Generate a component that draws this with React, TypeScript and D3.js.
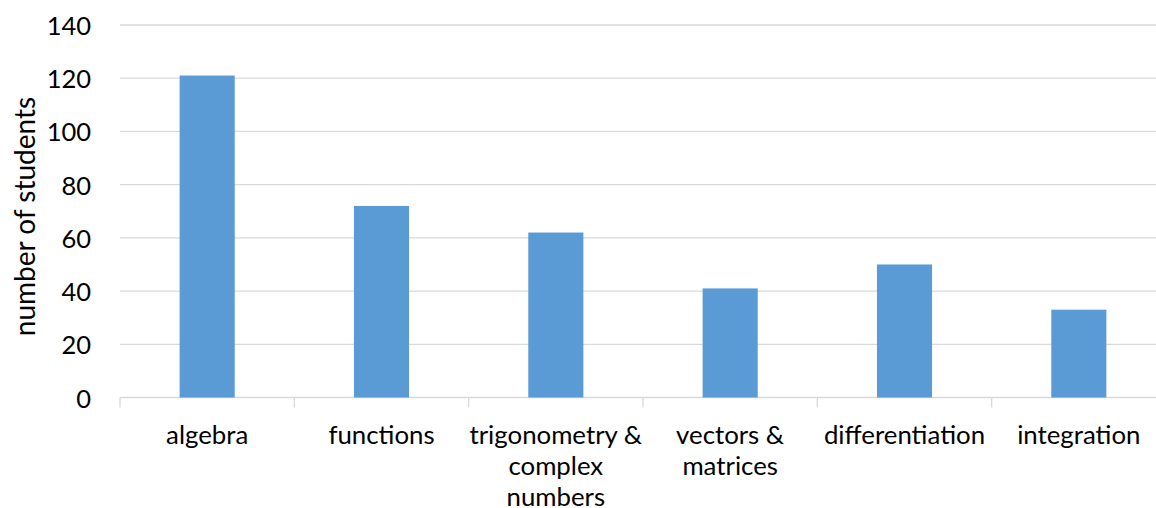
import React from "react";
import * as d3 from "d3";

// Topics and the number of students in each
const topics = [
  "algebra",
  "functions",
  "trigonometry & complex numbers",
  "vectors & matrices",
  "differentiation",
  "integration",
];
const studentCounts = [121, 72, 62, 41, 50, 33];
const yTicks = [0, 20, 40, 60, 80, 100, 120, 140];
const yTitle = "number of students";

const W = 1156;
const H = 508;
const FONT = "Lato, 'Open Sans', sans-serif";

const margin = { left: 120, right: -10, top: 25, bottom: 110 };

let measureCtx: CanvasRenderingContext2D | null = null;
function textWidth(s: string, size: number) {
  if (!measureCtx) measureCtx = document.createElement("canvas").getContext("2d");
  if (!measureCtx) return s.length * size * 0.5;
  measureCtx.font = `${size}px ${FONT}`;
  return measureCtx.measureText(s).width;
}

function wrap(label: string, maxWidth: number, size: number) {
  const words = label.split(" ");
  const lines: string[] = [];
  let cur = "";
  for (const w of words) {
    const next = cur ? cur + " " + w : w;
    if (cur && textWidth(next, size) > maxWidth) {
      lines.push(cur);
      cur = w;
    } else {
      cur = next;
    }
  }
  if (cur) lines.push(cur);
  return lines;
}

export default function App() {
  const x = d3
    .scaleBand<string>()
    .domain(topics)
    .range([margin.left, W - margin.right])
    .paddingInner(0)
    .paddingOuter(0);
  const step = x.step();
  const barW = step * 0.316;

  const y = d3
    .scaleLinear()
    .domain([0, 140])
    .range([H - margin.bottom - 0.5, margin.top]);

  const labelSize = 25.8;
  const tickSize = 25.5;

  const boundaries = d3.range(topics.length + 1).map((i) => margin.left + i * step);

  return (
    <svg
      width={W}
      height={H}
      style={{ position: "fixed", left: 0, top: 0, background: "#fff" }}
      fontFamily={FONT}
    >
      {/* horizontal gridlines */}
      {yTicks.map((t) => (
        <line
          key={"g" + t}
          x1={margin.left}
          x2={W}
          y1={y(t)}
          y2={y(t)}
          stroke="#d9d9d9"
          strokeWidth={1.3}
        />
      ))}
      {/* y tick labels */}
      {yTicks.map((t) => (
        <text
          key={"t" + t}
          x={91}
          y={y(t)}
          textAnchor="end"
          dominantBaseline="central"
          fontSize={tickSize}
          fill="#000"
        >
          {t}
        </text>
      ))}
      {/* category tick marks */}
      {boundaries.map((bx, i) => (
        <line
          key={"k" + i}
          x1={bx}
          x2={bx}
          y1={y(0)}
          y2={y(0) + 10}
          stroke="#d9d9d9"
          strokeWidth={1.3}
        />
      ))}
      {/* bars */}
      {topics.map((c, i) => {
        const cx = (x(c) as number) + step / 2;
        return (
          <rect
            key={"b" + c}
            x={cx - barW / 2}
            y={y(studentCounts[i])}
            width={barW}
            height={y(0) - y(studentCounts[i])}
            fill="#5b9bd5"
          />
        );
      })}
      {/* category labels */}
      {topics.map((c) => {
        const cx = (x(c) as number) + step / 2;
        const lines = wrap(c, step + 4, labelSize);
        return (
          <text key={"l" + c} textAnchor="middle" fontSize={labelSize} fill="#000">
            {lines.map((ln, j) => (
              <tspan key={j} x={cx} y={434 + j * 31} dominantBaseline="central">
                {ln}
              </tspan>
            ))}
          </text>
        );
      })}
      {/* y axis title */}
      <text
        transform={`translate(24, ${y(68)}) rotate(-90)`}
        textAnchor="middle"
        dominantBaseline="central"
        fontSize={28}
        fill="#000"
      >
        {yTitle}
      </text>
    </svg>
  );
}
